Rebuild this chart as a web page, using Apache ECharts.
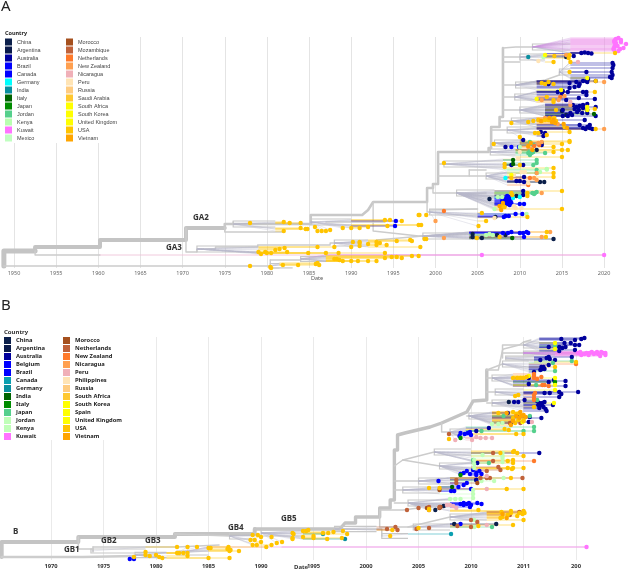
<!DOCTYPE html>
<html><head><meta charset="utf-8">
<script src="https://cdn.jsdelivr.net/npm/echarts@6/dist/echarts.min.js"></script>
<style>html,body{margin:0;padding:0;background:#fff}#c{width:630px;height:571px}</style></head>
<body><div id="c"></div>
<script>
// ---------- categories ----------
const countriesA1=['China','Argentina','Australia','Brazil','Canada','Germany','India','Italy','Japan','Jordan','Kenya','Kuwait','Mexico'];
const countriesA2=['Morocco','Mozambique','Netherlands','New Zealand','Nicaragua','Peru','Russia','Saudi Arabia','South Africa','South Korea','United Kingdom','USA','Vietnam'];
const countriesB1=['China','Argentina','Australia','Belgium','Brazil','Canada','Germany','India','Italy','Japan','Jordan','Kenya','Kuwait'];
const countriesB2=['Morocco','Netherlands','New Zealand','Nicaragua','Peru','Philippines','Russia','South Africa','South Korea','Spain','United Kingdom','USA','Vietnam'];
const yearsA=[1950,1955,1960,1965,1970,1975,1980,1985,1990,1995,2000,2005,2010,2015,2020];
const ticksA=['1950','1955','1960','1965','1970','1975','1980','1985','1990','1995','2000','2005','2010','2015','2020'];
const yearsB=[1970,1975,1980,1985,1990,1995,2000,2005,2010,2015,2020];
const ticksB=['1970','1975','1980','1985','1990','1995','2000','2005','2010','2011','200'];

// ---------- panel A tips: [year, tree row] ----------
const a_kuwait=[[2021.7,38],[2022,40],[2022.6,44],[2022.3,48],[2021.7,51],[2021.4,43],[2021.6,46],[2022,42],[2021.9,49],[2021.2,41],[2021.3,45],[2021.2,47],[2021.1,49],[2021.4,39],[2021.3,40],[2021.2,42],[2021.4,44],[2021.2,50],[2005.5,255],[2020,255]];
const a_usa=[[2021.3,53],[2014.1,56],[2015.9,55],[2015.8,58],[2016,62],[2014,62],[2015.9,72],[2012.6,83],[2013,84],[2013.4,82],[2014,84],[2019,81],[2018.9,92],[2014,102],[2014,100],[2013.2,97],[2014.3,110],[2018.9,109],[2011,122],[2011.6,121],[2012.2,120],[2012.6,121],[2013,120],[2013.4,120],[2013.8,119],[2014.3,121],[2014.1,118],[2009,123],[2015.3,127],[2015.9,132],[2019,129],[2011.8,133],[2012.2,133],[2013.2,135],[2010,137],[2014,147],[2015,144],[2015.9,142],[2006.9,144],[2015,150],[2015,157],[2015.7,150],[2015.9,141],[2014,152],[2001,163],[2008.2,164],[2008.2,167],[2010,165],[2014,168],[2014,173],[2014,177],[2009,178],[2009,193],[2009.1,195],[2010.9,193],[2010.9,196],[2015,191],[2007.8,208],[2008.2,207],[2008,205],[2005.5,213],[2015,209],[1998.9,215],[1998.1,215],[2006,221],[2010.9,217],[2005.1,226],[1998.3,225],[2004.9,238],[2007.6,237],[2013.1,237],[2013.2,232],[1998.9,239],[1998.7,239],[1998.2,247],
[1978,223],[1982,222],[1982.7,223],[1984,223],[1984,228],[1984.6,229],[1984.8,229],[1985.7,227],[1986,231],[1986.5,231],[1987,231],[1987.5,230],[1982,231],[1989,228],[1990,228],[1991,228],[1992,227],[1994.3,226],[1994,220],[1994.6,220],[1996,221],[1998,215],[1998,225],
[1979,252],[1979.3,254],[1979.8,252],[1980,253],[1980.5,253],[1981,250],[1981.5,249],[1982.1,248],[1982.4,252],[1984.9,253],[1986,247],[1987,253],[1988,247],[1988.5,253],[1990,247],[1990.2,242],[1991,242],[1991,243],[1992,244],[1993,245],[1993.4,243],[1993,242],[1995.4,241],[1997,240],[1997.2,241],[1994.2,245],[1991,246],
[1978,266],[1980.4,267],[1980.5,268],[1981.9,265],[1983.7,265],[1985.8,264],[1986,263],[1986.2,265],[1988,259],[1988.3,259],[1988.6,260],[1989,261],[1990,261],[1990.8,261],[1992,261],[1993,261],[1994,253],[1994,258],[1994.8,257],[1995.4,257],[1996,258],[1997.2,256],[1998,256]];
const a_vietnam=[[2013.8,122],[2014,120],[2013.5,118],[2014.2,123],[2012.5,121],[2011.5,150],[2011,146],[2011.3,143],[2007.6,206],[2008,203],[2007.8,210],[2015.2,124],[2015.6,128]];
const a_newzealand=[[2015.5,55],[2020,82],[2012.6,100],[2014.6,100],[2013,118],[2014,118],[2014.5,124],[2020,129],[2011,147],[2011.4,149],[2012.2,143],[2012.6,142],[2011.7,178],[2012,180],[2012,173],[2012.6,193],[2000,221],[2001,238],[2012.6,237],[2013.6,232],[2015.3,96],[2016,105]];
const a_peru=[[2012.2,61],[2010.2,172],[2010.6,172],[2011,183],[2007,218],[2009.5,208],[2010.2,208],[2009.3,206],[2010,152],[2009.8,159],[2009.3,175]];
const a_nicaragua=[[2016.9,62],[2016,102]];
const a_netherlands=[[2011.2,178],[2011.7,146],[2012.3,145],[2001,211],[2011,185],[2014.8,97]];
const a_australia=[[2017.3,53],[2017.7,52.5],[2018.1,53],[2018.5,53.5],[2016.4,56],[2021,63],[2021.1,65],[2021,68],[2020.9,72],[2021,75],[2020.7,77],[2020.9,78],[2017.9,72],[2015.9,83],[2016.7,82],[2017.5,81],[2018.1,79],[2019,81],[2015.9,88],[2016.5,87],[2017.1,84],[2017.9,81],[2013.4,84],[2017,86],[2018,82],[2014.5,92],[2015.1,91],[2015.7,92],[2017.5,92],[2017.9,92],[2018.9,99],[2015.5,100],[2017,98],[2017.9,95],[2015,94],[2016.3,105],[2016.7,107],[2017.1,106],[2017.5,105],[2018,104],[2016.5,109],[2017,110],[2017.5,108],[2018,110],[2016.8,112],[2017.4,113],[2018,113],[2019,107],[2019,116],[2015.1,110],[2016,113],[2015.1,116],[2015.7,116],[2016.2,115],[2017.1,125],[2017.7,120],[2018.3,125],[2017.5,128],[2018,127],[2018.3,128],[2018.6,129],[2017.8,129],[2012.5,132],[2013,133],[2012.8,136],[2010.4,140],[2012.6,145],[2010.5,177],[2010.5,182],[2009.6,181],[2010,181],[2010.4,191],[2010.4,195],[2009,165],[2010.4,165],[2008.3,147]];
const a_china=[[2004.4,234],[2004.4,237],[2005.5,238],[2007.3,235],[2008.3,235],[2014,239],[2006.4,199],[2009.6,196],[2007.1,217],[2015.5,57],[2012.4,182],[2012.9,182],[2015,111],[2015.5,115],[2012,150],[2012.6,143]];
const a_brazil=[[2009,147],[2009.9,147],[1995.3,221],[1995.2,226],[2007.9,201],[2008,203],[2008.1,199],[2008.2,205],[2008.3,202],[2008.4,198],[2008.4,200],[2008.5,204],[2008.5,196],[2008.6,201],[2008.7,197],[2008.7,203],[2008.8,199],[2008.8,205],[2008.9,201],[2009,203],[2009,198],[2010,204],[2010.5,204],[2008.1,217],[2008.7,216],[2008.3,216],[2010.3,214],[2008,233],[2008.6,233],[2009,232],[2010,233],[2010.4,233],[2010.8,232],[2011,233],[2010.5,237],[2009.5,214]];
const a_germany=[[2008.3,178],[2009.2,198],[2010,197]];
const a_india=[[2011,57]];
const a_italy=[[2009.1,238],[2009.2,160],[2009.2,164],[2018.8,114]];
const a_jordan=[[2011,153],[2011.2,155],[2011.4,153],[2011.2,151],[2011.6,152],[2013,153],[2012,163],[2012,160],[2011.5,193],[2011.8,193],[2012,192],[2012,170],[2012,173],[2011.6,165],[2011.7,194],[2011.2,142],[2011.6,145]];
const a_kenya=[[2012.8,57],[2013.2,169],[2013.2,169.5],[2007.4,197],[2007.9,197],[2006,235],[2006.4,234],[2006.8,235],[2010.8,214],[2007,209],[2010,147],[2012.4,172]];
const a_southafrica=[[2013,55],[2018,78],[2014.9,90],[2012,99],[2009,175],[2018,107],[2018,110]];

// ---------- panel A clusters: [stem year, stem row, knee year, row top, row bottom] ----------
const clustersA=[[2011.5,47,2016,36,53],[2010,57,2013,53,64],[2014.7,72,2016,62,79],[2009.5,85,2012,79,90],[2009.4,97,2012,90,103],[2010,110,2013,103,117],[2009,121,2012,117,127],[2008.5,130,2012,127,137],[2007,143,2010,137,149],[2006.5,152,2009.5,149,158],[2001,164,2008,158,170],[2006,176,2008.5,170,186],[2002.5,193,2007,186,210],[1999.3,212,2005,209,228],[1998.5,236,2004,231,240],[1976,224,1981,219,233],[1985.2,222,1990,218,232],[1971.7,249,1979,243,254],[1988,243,1992,238,248],[1984,259,1987,255,262],[1980.4,266,1981.5,262,269]];
// ---------- panel A tree branches: polylines of [year, row] pairs, flat ----------
const trunkA5=[[1948.8,266,1948.8,251,1952.5,251]];
const trunkA4=[[1952.5,251,1952.5,247,1960.2,247,1960.2,240,1970.4,240,1970.4,228,1975,228]];
const trunkA3=[[1975,228,1975,224,1985.2,224,1985.2,215,1991.3,215,1992,210,1992.6,202,1999,202,1999,188,1999.7,188,1999.7,184,2000.3,184,2000.3,152,2006.3,152,2006.3,148,2006.6,148,2006.6,127,2007.6,127,2007.6,117,2008,117,2008,48]];
const branchA=[[1970.4,228,1970.4,252,1971.7,252,1971.7,249,1973.9,249,1973.9,247,1978.9,247,1978.9,245,1987.5,245,1987.5,243,1988,243],[1948.8,266,1978,266,1980.4,266],[1952.5,251,1952.5,255,1960.2,255],[1980.4,260,1984,260,1984,259],[1980.4,260,1980.4,268,1983,268],[1975,228,1975,232,1982,232],[1976,224,1976,222],[1987,222,1994,222],[2008,48,2009.5,47,2011.5,47],[2008,57,2010,57],[2008,62,2010,62],[2009.5,85,2013,80,2014.7,75,2014.7,72],[2008,85,2009.5,85],[2008,97,2009.4,97],[2008,110,2010,110],[2007.6,121,2009,121],[2006.6,130,2008.5,130],[2006.6,143,2007,143],[2000.3,164,2001,164],[2000.3,176,2006,176],[2002.5,193,1999.7,193,1999.7,186],[1999,202,1999,212,1999.3,212],[1999.3,210,2005,209],[1993,240,1998.5,236],[1992.6,202,1992.6,231,1998,236,2004,234],[2003.8,194,2006,193],[2004,170,2006,170],[2004,170,2004,176]];
const pinkLineA=[[1960.2,255,2020,255]];

// ---------- panel B tips ----------
const b_kuwait=[[2021,547],[2020.2,353],[2020.5,355],[2021,353],[2021.2,355],[2021.5,352],[2021.7,354],[2021.9,353],[2022,352],[2022.1,354],[2022.4,352],[2022.6,353],[2022.8,355],[2022.8,353],[2020.4,352],[2020.8,354],[2021.3,353],[2022.3,356]];
const b_usa=[[1977.9,557],[1979,552],[1979,555],[1979.4,556],[1980,555],[1980.3,557],[1980.6,558],[1982,553],[1982.2,553],[1982.6,553],[1982,547],[1983,547],[1983,553],[1983,556],[1983.9,547],[1985,548],[1985.2,548],[1985,558],[1986.9,547],[1986.8,549],[1987,551],[1987.1,550],[1987,558],[1987.9,551],[1989.2,535],[1989.7,535],[1989,540],[1989.4,540],[1990,537],[1990,542],[1989.6,545],[1989.2,545],[1990.5,547],[1991,545],[1991.5,543],[1992,542],[1991,537],[1993,533],[1993.1,534],[1993,539],[1993,538],[1994,531],[1994.3,531],[1994.5,530],[1994,537],[1995,536],[1995,538],[1995.9,533],[1996.4,533],[1996.9,532],[1997.8,531],[1998.2,534],[1996.3,539],[1997.7,538],[2002.3,536],[2002.5,530],[2005,528],[2010.7,526],[2014,525],[2015,520],[2012.8,518],[2013,517],[2012.9,512],[2013.5,515],[2013.8,513],[2014.4,516],[2014.6,513],[2015,511],[2015.1,513],[2014.9,514],[2006,510],[2006,509],[2013.8,511],[2014,452],[2014.1,451],[2014.4,453],[2012.8,453],[2015,456],[2013.5,461],[2014,460],[2014,463],[2015,468],[2014,468],[2013.9,469],[2013.5,468],[2013.8,478],[2006,488],[2007,488],[2013.4,489],[2015,489],[2010.7,510],
[2007.9,439],[2013.2,429],[2013.6,430],[2014.3,434],[2015,434],[2012.6,413],[2014,412],[2014.3,414],[2014.6,413],[2014,418],[2014.5,420],[2015,421],[2015,420],[2014.2,423],[2014.5,395],[2014.2,396],[2014,378],[2014.4,378],[2014.7,378],[2015,378],[2015.3,377],[2016,407],[2018,367],[2020,362]];
const b_vietnam=[[2014.3,416],[2014.6,418],[2014.8,416],[2014,421],[2014.7,412],[2015,415],[2015.2,417],[2013.4,413],[2013.8,425],[2013,514],[2013.4,518]];
const b_newzealand=[[2016,461],[2016,395],[2016,398],[2016,400],[2016.1,393],[2016,374],[2016,376],[2016,378],[2016.7,377],[2020,364],[2016.8,385],[2017.4,386],[2017,385],[2016.3,379]];
const b_netherlands=[[2003.9,510],[2005,508],[2006,507],[2006,510],[2007,507],[2002,529],[2002.8,527],[2003,530],[2004.8,529],[2006,528],[2008.7,526],[2010,520],[2010,527],[2010.6,522],[2012.1,453],[2012.1,461],[2012.8,470],[2012.6,467],[2011.5,471],[2014.9,478],[2011.8,478],[2011.5,478],[2010.9,478],[2008.6,480],[2008.6,483],[2013.7,515],[2014.6,512],[2015,512],[2007.9,434],[2014.4,416],[2014,419],[2014.7,423],[2013.7,423]];
const b_morocco=[[2005.8,508],[2007.1,507],[2007,508],[2010.6,483],[2007,490]];
const b_peru=[[2008,505],[2008.3,506],[2008.6,508],[2007.7,505],[2011.5,476],[2011.5,489],[2011.5,525],[2008.5,440],[2010.1,440],[2010.5,437],[2010.9,438],[2011.4,438],[2012,438],[2015.8,422]];
const b_china=[[2006.6,510],[2007.4,506],[2008.4,524],[2012.4,524],[2013.6,402],[2010.5,480]];
const b_australia=[[2016.5,453],[2010.6,463],[2010.5,480],[2010.5,431],[2011.7,428],[2016.7,418],[2015.6,417],[2013.5,413],[2013.8,423],[2015.5,422],[2014.1,402],[2014.5,402],[2015.1,400],[2016.3,401],[2016.5,403],[2016.7,405],[2016.9,407],[2017,402],[2016.5,408],[2016.8,403],[2017.1,409],[2016.4,405],[2017.8,405],[2017.2,411],[2017,393],[2017.5,393],[2018.4,392],[2020.2,392],[2018.4,397],[2018.6,394],[2015.5,378],[2015.5,384],[2017.4,382],[2017.9,380],[2019,381],[2019,386],[2016.7,367],[2016.8,369],[2016.9,367],[2017,369],[2016.6,370],[2016,372],[2017.4,365],[2017.2,358],[2017.4,357],[2017.5,359],[2018,360],[2016.6,360],[2019.6,357],[2020.8,338],[2020.5,339],[2019.9,340],[2018.6,339],[2020.3,345],[2019.9,345],[2019.9,350],[2018.4,347],[2018.7,348],[2018.4,351],[2017.4,347],[2018.9,343],[2019,347],[2019.5,343]];
const b_brazil=[[1977.5,559],[1977.9,559],[2006.9,481],[2009,474],[2009.3,473],[2009.6,471],[2009.9,474],[2010.2,470],[2010.5,473],[2010.8,471],[2011,474],[2010.5,475],[2009.6,483],[2009.3,485],[2008.8,487],[2008.1,491],[2008.4,491],[2010,489],[2009,504],[2009.3,503],[2009.6,504],[2009.8,503],[2010,505],[2009.3,505],[2010.6,503],[2011,504],[2009.9,507],[2009,524],[2009,433],[2009.4,434],[2009.7,433],[2010,435],[2008.9,436],[2009.9,432]];
const b_canada=[[1995.9,534],[2008.1,534]];
const b_germany=[[1998,539]];
const b_india=[[2008.2,487]];
const b_italy=[[2009,438],[2009,475],[2018,382]];
const b_japan=[[2011,431],[2015,431],[2016,427],[2016,431],[2013.1,416],[2015.6,416],[2012,527],[2011.7,463],[2010.2,460],[2016.2,385],[2018,371],[2017.8,363],[2019.6,361],[2018,346],[2016.3,400]];
const b_kenya=[[2011.1,455],[2013,453],[2013,456],[2013,458],[2013,462],[2010.3,460],[2010.3,464],[2010.3,468],[2013.1,478],[2012.2,481],[2011,481],[2010.2,490],[2010.2,494],[2010.2,498],[2008,499],[2008.5,499],[2009,499],[2010.3,527],[2010.3,520],[2012,424],[2012.6,424],[2013,423]];
const b_southkorea=[[2018,378],[2018,385],[2018,390],[2017.9,403],[2018,343],[2018,349],[2015.5,376],[2014.9,422]];

// ---------- panel B clusters / branches ----------
const clustersB=[[2015,345,2016.5,337,351],[2015,353,2018,351,356.5],[2013.3,358,2016,356.5,362],[2013,364,2015.5,362,373],[2012,378,2014,373,388],[2012.3,392,2015,388,399],[2012,403,2015,399,411],[2009.8,416,2012,411,426],[2008,432,2009.5,426,443],[2006.5,452,2010,450,462],[2007,466,2010,462,477],[2005,481,2008,477,486],[2003.5,490,2007,486,497],[2004,503,2008,497,513],[2008,517,2011.5,512,523],[2004.5,527,2008,522,532],[2001.5,536,2004,532,539],[1973.8,551,1979,546,552],[1978,555,1981,552,560],[1982,553,1985,546,552],[1987,536,1989.5,530,546],[1990,533,1994,527,543],[1997,529,2001,525,533]];
const trunkB4=[[1965.3,557,1965.3,542,1972.6,542,1972.6,537,1981.8,537,1981.8,534,1989.4,534,1989.4,529]];
const trunkB3=[[1989.4,529,1997.5,529,1998,523,1999,523,1999,517,2001.3,517,2001.3,508,2002.3,508,2002.3,500,2002.7,500,2002.7,450,2003,450,2003,435,2003.7,433,2004.5,431,2006.1,427,2007.2,423,2009.6,412,2010.2,401,2011.5,400,2011.5,370]];
const trunkB2=[[1965.3,557,1973,557,1978,556]];
const branchB=[[2011.5,370,2012.6,370,2013,350,2013.1,349,2014.6,345,2015,342,2015.7,340],[1972.6,537,1972.6,549,1974,549,1974,551],[1974,547,1974,552],[1974,547,1982,547,1986,545],[1981.8,534,1987,536],[2001.3,517,2001.3,510,2003.5,510,2005,508],[2001.3,517,2001.3,527,2004.5,527],[1997.5,529,2001.5,529,2001.5,536],[2002.7,490,2003.5,490],[2002.7,503,2004,503],[2002.7,481,2005,481],[2002.7,466,2003.5,460,2007,466],[2003.5,460,2006.5,452],[2004,527,2008,517],[2007.2,423,2007.2,432,2008,432],[2011.5,378,2012,378],[2011.5,392,2012.3,392],[2011.5,403,2012,403],[2011.5,370,2013,364],[2013,358,2013,345,2015,345],[2013,353,2015,353],[2009.6,416,2009.8,416]];
const pinkLineB=[[1992,547,2021,547]];

// ---------- colours ----------
const colorsA={China:'#0b1f4a',Argentina:'#0a1a4a',Australia:'#00009c',Brazil:'#0000ff',Canada:'#0000ff',Germany:'#00ffff',India:'#0a8f9f',Italy:'#006400',Japan:'#008c00',Jordan:'#55d08c',Kenya:'#b8ffb0',Kuwait:'#ff73ff',Mexico:'#c0ffc0',Morocco:'#a5501e',Mozambique:'#c0623a',Netherlands:'#ff7a2a','New Zealand':'#ffa050',Nicaragua:'#f0b0b8',Peru:'#ffe4b5',Russia:'#ffcc80','Saudi Arabia':'#ffc830','South Africa':'#ffff00','South Korea':'#ffff00','United Kingdom':'#ffff00',USA:'#ffc400',Vietnam:'#ffa500'};
const colorsB=Object.assign({},colorsA,{Canada:'#0a9fb0',Germany:'#0a8f9f',India:'#006400',Italy:'#008c00',Japan:'#55d08c',Jordan:'#c0ffb8',Kenya:'#c0ffb8',Belgium:'#0000ff',Morocco:'#a5501e',Netherlands:'#c0623a','New Zealand':'#ff7a2a',Nicaragua:'#ffa050',Peru:'#f0b0b8',Philippines:'#ffe4b5',Russia:'#ffcc80','South Africa':'#ffc830','South Korea':'#ffff00',Spain:'#ffff00'});

const tipsA={Kuwait:a_kuwait,USA:a_usa,Vietnam:a_vietnam,'New Zealand':a_newzealand,Peru:a_peru,Nicaragua:a_nicaragua,Netherlands:a_netherlands,Australia:a_australia,China:a_china,Brazil:a_brazil,Germany:a_germany,India:a_india,Italy:a_italy,Jordan:a_jordan,Kenya:a_kenya,'South Africa':a_southafrica};
const tipsB={Kuwait:b_kuwait,USA:b_usa,Vietnam:b_vietnam,'New Zealand':b_newzealand,Netherlands:b_netherlands,Morocco:b_morocco,Peru:b_peru,China:b_china,Australia:b_australia,Brazil:b_brazil,Canada:b_canada,Germany:b_germany,India:b_india,Italy:b_italy,Japan:b_japan,Kenya:b_kenya,'South Korea':b_southkorea};

function poly(flat){const p=[];for(let i=0;i<flat.length;i+=2)p.push([flat[i],flat[i+1]]);return p;}
function lineSeries(list,ai,color,width,z){return {type:'lines',coordinateSystem:'cartesian2d',xAxisIndex:ai,yAxisIndex:ai,polyline:true,silent:true,z:z||2,lineStyle:{color:color,width:width,opacity:1,cap:'round',join:'round'},data:list.map(f=>({coords:poly(f)}))};}
function tipLines(tips,clusters,colors,ai){
  const grey=[],col=[],fan=[];
  clusters.forEach(c=>{
    const h=Math.min(3,(c[4]-c[3])/3);
    fan.push({coords:[[c[2],c[1]-h],[c[0],c[1]-h],[c[0],c[1]+h],[c[2],c[1]+h]]});
  });
  Object.keys(tips).forEach(name=>tips[name].forEach(t=>{
    let best=null;
    clusters.forEach(c=>{if(t[1]>=c[3]&&t[1]<=c[4]&&c[0]<t[0]&&(!best||c[0]>best[0]))best=c;});
    if(!best)return;
    const k=Math.min(best[2],t[0]);
    grey.push({coords:[[best[0],best[1]],[k,t[1]]],lineStyle:{color:name==='Kuwait'?'#c98fdc':'#b8b8c8'}});
    if(k<t[0])col.push({coords:[[k,t[1]],[t[0],t[1]]],lineStyle:{color:name==='Kuwait'?'#ee88ea':colors[name]}});
  }));
  const base={type:'lines',coordinateSystem:'cartesian2d',xAxisIndex:ai,yAxisIndex:ai,silent:true,polyline:true};
  return [
    Object.assign({},base,{z:2,lineStyle:{color:'#c8c8c8',width:1.2,opacity:1},data:fan}),
    Object.assign({},base,{z:2,lineStyle:{width:.8,opacity:.4},data:grey}),
    Object.assign({},base,{z:2,lineStyle:{width:1,opacity:.5},data:col})
  ];
}
function dots(list,tips,colors,ai){return list.map(name=>({type:'scatter',name:name,xAxisIndex:ai,yAxisIndex:ai,symbolSize:4.4,z:3,itemStyle:{color:colors[name],opacity:1},data:tips[name]||[]}));}
function legend(list,colors,left,top,style){return {orient:'vertical',left:left,top:top,padding:0,itemWidth:7,itemHeight:7,itemGap:1,icon:'rect',selectedMode:false,textStyle:style,data:list.map(n=>({name:n,itemStyle:{color:colors[n],borderWidth:0,opacity:1}}))};}

const styleA={fontSize:5.5,color:'#444',fontFamily:'Liberation Sans'};
const styleB={fontSize:5.8,color:'#222',fontWeight:'bold',fontFamily:'Noto Sans'};
const lbl=(t,x,y,size,weight,color)=>({type:'text',left:x,top:y,z:9,style:{text:t,fontSize:size,fontWeight:weight,fill:color,fontFamily:'Noto Sans'}});

const option={
  animation:false,backgroundColor:'#fff',
  grid:[{left:0,top:37,width:630,height:231},{left:0,top:337,width:630,height:223}],
  xAxis:[
   {gridIndex:0,type:'value',min:1948.34,max:2023.07,axisLine:{show:false},axisTick:{show:false,customValues:yearsA},splitLine:{show:true,lineStyle:{color:'#e4e4e4',width:1}},axisLabel:{customValues:yearsA,margin:2,fontSize:5.5,color:'#666',fontFamily:'Noto Sans',formatter:v=>ticksA[yearsA.indexOf(v)]}},
   {gridIndex:1,type:'value',min:1965.14,max:2025.14,axisLine:{show:false},axisTick:{show:false,customValues:yearsB},splitLine:{show:true,lineStyle:{color:'#eaeaea',width:1}},axisLabel:{customValues:yearsB,margin:3,fontSize:5.8,fontWeight:'bold',color:'#333',fontFamily:'Noto Sans',formatter:v=>ticksB[yearsB.indexOf(v)]}}],
  yAxis:[
   {gridIndex:0,type:'value',inverse:true,min:37,max:268,show:false},
   {gridIndex:1,type:'value',inverse:true,min:337,max:560,show:false}],
  legend:[legend(countriesA1,colorsA,5,38.5,styleA),legend(countriesA2,colorsA,66,38.5,styleA),legend(countriesB1,colorsB,4,337,styleB),legend(countriesB2,colorsB,63,337,styleB)],
  series:[
    lineSeries(trunkA5,0,'#c4c4c4',5,2),lineSeries(trunkA4,0,'#c4c4c4',4,2),lineSeries(trunkA3,0,'#c8c8c8',2.6,2),lineSeries(branchA,0,'#cccccc',1.4,2),lineSeries(pinkLineA,0,'#eebcd4',.8,2),
    ...tipLines(tipsA,clustersA,colorsA,0),
    lineSeries(trunkB4,1,'#c4c4c4',4,2),lineSeries(trunkB3,1,'#c4c4c4',3.4,2),lineSeries(trunkB2,1,'#cdcdcd',2.6,2),lineSeries(branchB,1,'#cccccc',1.5,2),lineSeries(pinkLineB,1,'#f5c0ee',1.2,2),
    ...tipLines(tipsB,clustersB,colorsB,1),
    ...dots(countriesA1.concat(countriesA2),tipsA,colorsA,0),
    ...dots(countriesB1.concat(countriesB2),tipsB,colorsB,1)
  ],
  graphic:[
    {type:'rect',left:0,top:30,z:1,shape:{width:135,height:113},style:{fill:'#fff'}},
    {type:'rect',left:0,top:330,z:1,shape:{width:148,height:110},style:{fill:'#fff'}},
    lbl('A',1,-1,15,'normal','#222'),lbl('B',1,298,15,'normal','#222'),
    lbl('Country',5,30,5.5,'bold','#222'),lbl('Country',4,329,6,'bold','#333'),
    lbl('GA2',193,214,8,'bold','#333'),lbl('GA3',166,244,8,'bold','#333'),
    lbl('B',13,528,8,'bold','#333'),lbl('GB1',64,546,8,'bold','#333'),lbl('GB2',101,537,8,'bold','#333'),lbl('GB3',145,537,8,'bold','#333'),lbl('GB4',228,524,8,'bold','#333'),lbl('GB5',281,515,8,'bold','#333'),
    lbl('Date',311,275,5.5,'normal','#555'),lbl('Date',294,564,6,'bold','#333')
  ]
};
echarts.init(document.getElementById('c'),null,{renderer:'canvas'}).setOption(option);
</script></body></html>
